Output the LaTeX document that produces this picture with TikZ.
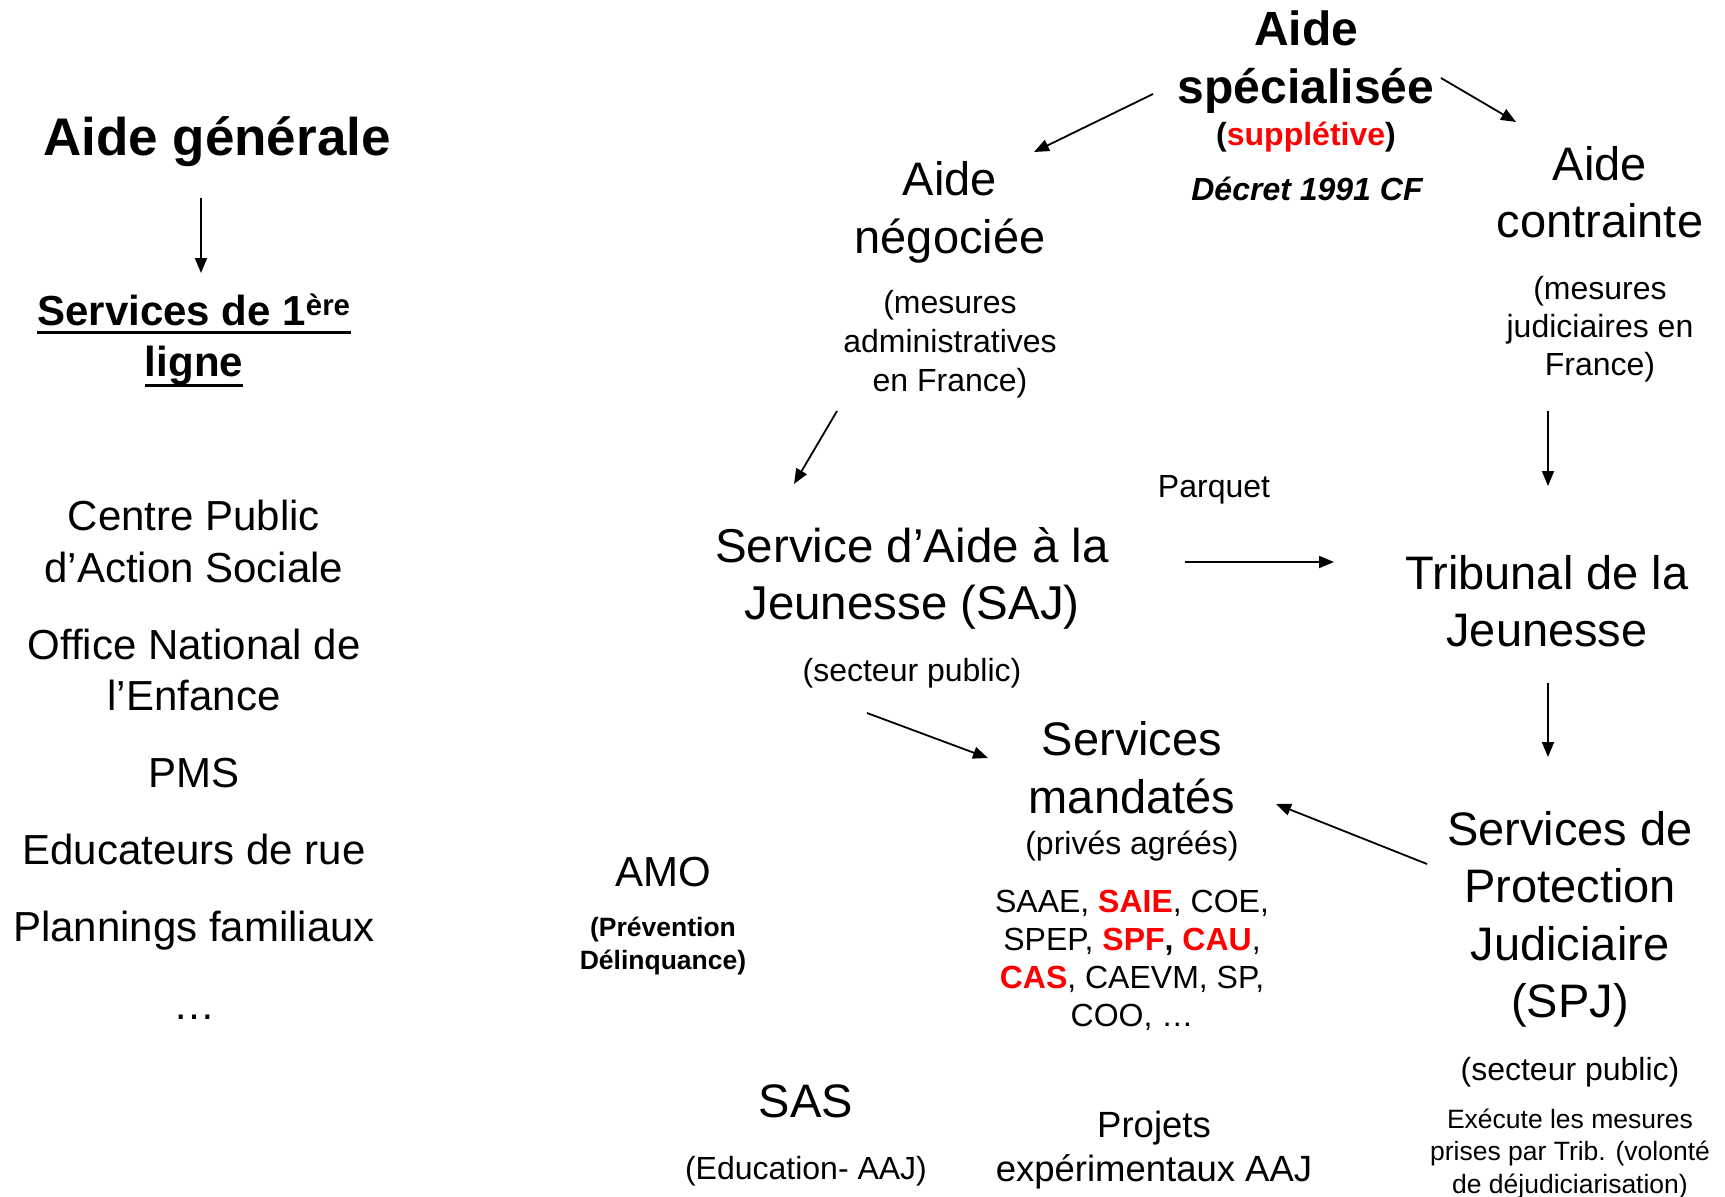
\documentclass[tikz,border=0pt]{standalone}
\usepackage{fontspec}
\setmainfont{Liberation Sans}
\usetikzlibrary{arrows.meta}
\newcommand\fsz[2]{\fontsize{#1}{#2}\selectfont}
\newcommand\stack[1]{\begin{tabular}[t]{@{}c@{}}#1\end{tabular}}
\newsavebox\ulsbox
\newcommand\ulx[2]{\sbox\ulsbox{#2}\rlap{\raisebox{-#1}{\rule{\wd\ulsbox}{3pt}}}\usebox\ulsbox}
\newcommand\rb[1]{\textcolor{red}{\textbf{#1}}}
\tikzset{
  txt/.style={anchor=base, inner sep=0pt, align=center},
  arr/.style={-{Triangle[length=15pt,width=12pt]}, line width=1.8pt}
}
\begin{document}
\begin{tikzpicture}[x=1pt,y=-1pt]
\useasboundingbox (0,0) rectangle (1725,1197);
% left column
\node[txt] (agen) at (217,155) {\fsz{53}{60}\bfseries Aide générale};
\node[txt] (s1) at (194,325) {\fsz{42}{51}\bfseries\stack{\ulx{9pt}{Services de 1\textsuperscript{ère}}\\\ulx{10.5pt}{ligne}}};
\node[txt] (cpas) at (194,530) {\fsz{42}{52}\stack{Centre Public\\d’Action Sociale}};
\node[txt] (one) at (194,659) {\fsz{42}{51}\stack{Office National de\\l’Enfance}};
\node[txt] (pms) at (194,787) {\fsz{42}{50}PMS};
\node[txt] (edu) at (194,864) {\fsz{42}{50}Educateurs de rue};
\node[txt] (plan) at (194,941) {\fsz{42}{50}Plannings familiaux};
\node[txt] (dots) at (194,1019) {\fsz{42}{50}…};
% top right
\node[txt] (aspec) at (1306,45) {\fsz{48}{58}\bfseries\stack{Aide\\spécialisée}};
\node[txt] (supp) at (1306,145) {\fsz{32}{38}\bfseries(\textcolor{red}{supplétive})};
\node[txt] (decret) at (1307,200) {\fsz{32}{38}\bfseries\itshape Décret 1991 CF};
\node[txt] (aneg) at (950,195) {\fsz{47}{58}\stack{Aide\\négociée}};
\node[txt] (anegsub) at (950,313) {\fsz{32}{39}\stack{(mesures\\administratives\\en France)}};
\node[txt] (acon) at (1600,180) {\fsz{47}{57}\stack{Aide\\contrainte}};
\node[txt] (aconsub) at (1600,299) {\fsz{32}{38}\stack{(mesures\\judiciaires en\\France)}};
% middle
\node[txt] (saj) at (912,562) {\fsz{47.5}{57}\stack{Service d’Aide à la\\Jeunesse (SAJ)}};
\node[txt] (sajsub) at (912,681) {\fsz{32}{38}(secteur public)};
\node[txt] (parquet) at (1214,497) {\fsz{32}{38}Parquet};
\node[txt] (trib) at (1547,589) {\fsz{47}{57}\stack{Tribunal de la\\Jeunesse}};
\node[txt] (smand) at (1132,755) {\fsz{47}{58}\stack{Services\\mandatés}};
\node[txt] (smandsub) at (1132,854) {\fsz{32}{38}(privés agréés)};
\node[txt] (slist) at (1132,912) {\fsz{32}{38.3}\stack{SAAE, \rb{SAIE}, COE,\\SPEP, \rb{SPF}\textbf{,} \rb{CAU},\\\rb{CAS}, CAEVM, SP,\\COO, …}};
\node[txt] (spj) at (1570,845) {\fsz{47}{57.5}\stack{Services de\\Protection\\Judiciaire\\(SPJ)}};
\node[txt] (spjsub) at (1570,1080) {\fsz{32}{38}(secteur public)};
\node[txt] (spjnote) at (1570,1128) {\fsz{26.5}{32.5}\stack{Exécute les mesures\\prises par Trib. (volonté\\de déjudiciarisation)}};
% bottom
\node[txt] (amo) at (663,886) {\fsz{42}{50}AMO};
\node[txt] (amosub) at (663,936) {\fsz{26.5}{33}\bfseries\stack{(Prévention\\Délinquance)}};
\node[txt] (sas) at (806,1117) {\fsz{47}{56}SAS};
\node[txt] (sassub) at (806,1179) {\fsz{32}{38}(Education- AAJ)};
\node[txt] (proj) at (1154,1137) {\fsz{36.5}{44}\stack{Projets\\expérimentaux AAJ}};
% connectors
\draw[arr] ([shift={(-16,43)}]agen.base) -- ([shift={(7,-52)}]s1.base);
\draw[arr] ([shift={(-153,49)}]aspec.base) -- ([shift={(84,-43)}]aneg.base);
\draw[arr] ([shift={(135,33)}]aspec.base) -- ([shift={(-84,-58)}]acon.base);
\draw[arr] ([shift={(-113,216)}]aneg.base) -- ([shift={(-118,-78)}]saj.base);
\draw[arr] ([shift={(-52,231)}]acon.base) -- ([shift={(1,-103)}]trib.base);
\draw[arr] ([shift={(273,0)}]saj.base) -- ([shift={(-213,-27)}]trib.base);
\draw[arr] ([shift={(1,94)}]trib.base) -- ([shift={(-22,-88)}]spj.base);
\draw[arr] ([shift={(-45,151)}]saj.base) -- ([shift={(-144,3)}]smand.base);
\draw[arr] ([shift={(-143,19)}]spj.base) -- ([shift={(144,49)}]smand.base);
\end{tikzpicture}
\end{document}
